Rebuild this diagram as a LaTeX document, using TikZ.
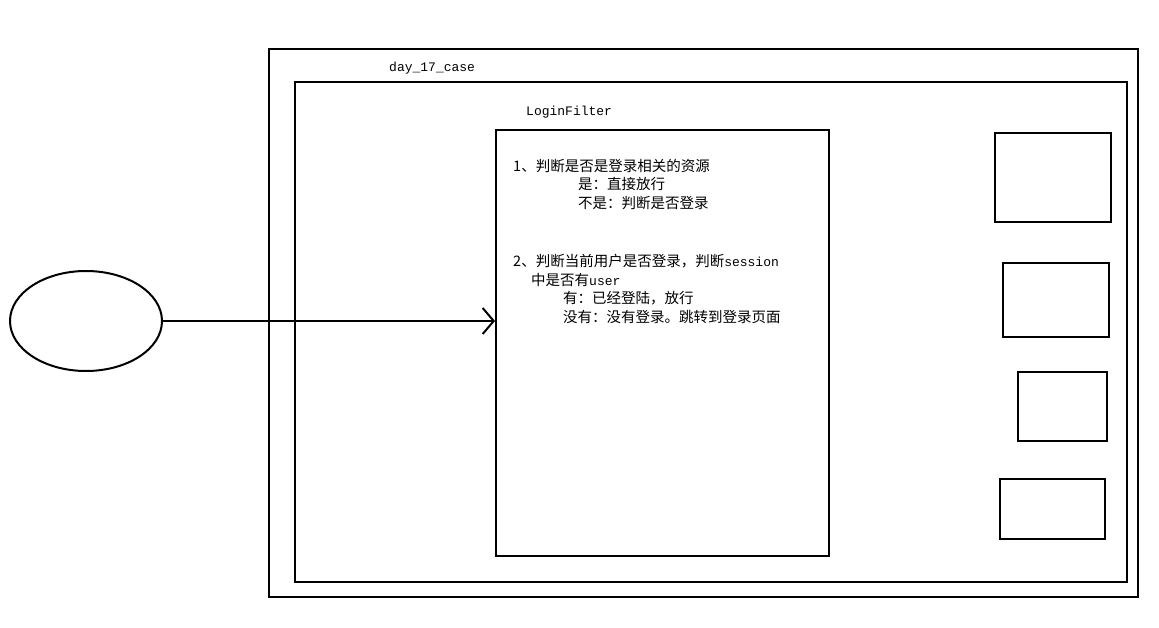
\documentclass[tikz,border=0pt]{standalone}
\usepackage{fontspec}
\usepackage{tikz}
\usetikzlibrary{arrows.meta,positioning,shapes.geometric}
\newfontfamily\cjk{Noto Sans CJK SC}
\newfontfamily\mono{Liberation Mono}
\newcommand\latin[1]{{\mono\fontsize{13}{15}\selectfont #1}}
\tikzset{
  frame/.style={
    draw=black,
    line width=2.4pt,
    inner sep=0pt
  },
  smallbox/.style={
    draw=black,
    line width=2pt,
    inner sep=0pt
  },
  caption/.style={
    anchor=west,
    inner sep=0pt,
    font=\mono\fontsize{13}{15}\selectfont
  },
  ruleline/.style={
    anchor=west,
    inner sep=0pt,
    font=\cjk\fontsize{14.5}{16}\selectfont
  },
  flowarrow/.style={
    -{Straight Barb[length=11pt,width=26pt]},
    line width=2pt,
    draw=black
  }
}

\begin{document}
\begin{tikzpicture}[x=1pt, y=-1pt]
  \useasboundingbox (0,0) rectangle (1159,628);

  % frames
  \node[frame, minimum width=869, minimum height=548] (server) at (703.5,323) {};
  \node[frame, minimum width=832, minimum height=500] (project) at (711,332) {};
  \node[caption] (projname) at (389,68) {day\_17\_case};

  % filter
  \node[smallbox, minimum width=333, minimum height=426] (filter) at (662.5,343) {};
  \node[caption] (filtername) at (526,112) {LoginFilter};

  \node[ruleline] (r1) at (513,166) {1、判断是否是登录相关的资源};
  \node[ruleline] (r2) at (578,184) {是：直接放行};
  \node[ruleline] (r3) at (578,203) {不是：判断是否登录};
  \node[ruleline] (r4) at (513,261) {2、判断当前用户是否登录，判断\latin{session}};
  \node[ruleline] (r5) at (531,280) {中是否有\latin{user}};
  \node[ruleline] (r6) at (563,298) {有：已经登陆，放行};
  \node[ruleline] (r7) at (563,317) {没有：没有登录。跳转到登录页面};

  % resources
  \node[smallbox, minimum width=116, minimum height=89] (res1) at (1053,177.5) {};
  \node[smallbox, minimum width=106, minimum height=74] (res2) at (1056,300) {};
  \node[smallbox, minimum width=89, minimum height=69] (res3) at (1062.5,406.5) {};
  \node[smallbox, minimum width=105, minimum height=60] (res4) at (1052.5,509) {};

  % browser
  \node[ellipse, draw=black, line width=2pt, minimum width=152, minimum height=100] (client) at (86,321) {};
  \draw[flowarrow] (client.east) -- (client.east -| filter.west);
\end{tikzpicture}
\end{document}
